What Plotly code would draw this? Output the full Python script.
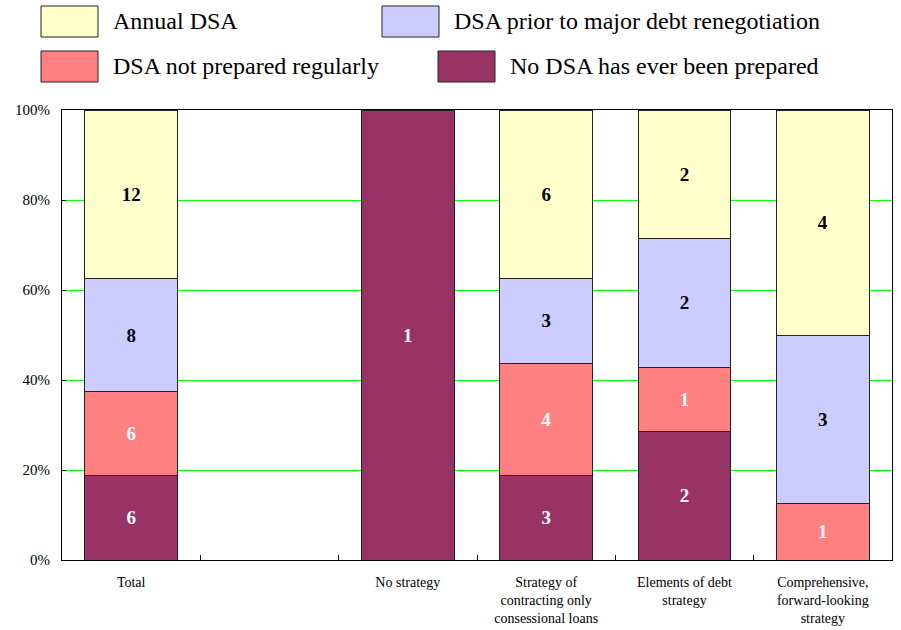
import plotly.graph_objects as go

# Categories (an empty slot separates "Total" from the strategy groups)
categories = ["Total", " ", "No strategy", "Strategy of contracting only consessional loans",
              "Elements of debt strategy", "Comprehensive, forward-looking strategy"]
tick_labels = ["Total", "", "No strategy",
               "Strategy of<br>contracting only<br>consessional loans",
               "Elements of debt<br>strategy",
               "Comprehensive,<br>forward-looking<br>strategy"]

# Number of countries per DSA practice
no_dsa_ever = [6, None, 1, 3, 2, None]
dsa_not_regular = [6, None, None, 4, 1, 1]
dsa_prior_renegotiation = [8, None, None, 3, 2, 3]
annual_dsa = [12, None, None, 6, 2, 4]

series = [
    ("No DSA has ever been prepared", no_dsa_ever, "#993366", "white"),
    ("DSA not prepared regularly", dsa_not_regular, "#FF8080", "white"),
    ("DSA prior to major debt renegotiation", dsa_prior_renegotiation, "#CCCCFF", "black"),
    ("Annual DSA", annual_dsa, "#FFFFCC", "black"),
]

FONT = "Liberation Serif"
W, H = 901, 630
ML, MR, MT, MB = 62, 9, 110, 70
PW, PH = W - ML - MR, H - MT - MB

fig = go.Figure()
for name, vals, color, tcolor in series:
    fig.add_trace(go.Bar(
        x=categories, y=vals, name=name,
        marker=dict(color=color, line=dict(color="#222222", width=1)),
        text=[("" if v is None else str(v)) for v in vals],
        textposition="inside", insidetextanchor="middle", textangle=0,
        textfont=dict(family=FONT, size=19, color=tcolor, weight="bold"),
        showlegend=False, hoverinfo="x+y+name",
    ))


def px_x(px):
    return (px - ML) / PW


def px_y(py):
    return (H - MB - py) / PH


# Legend drawn as large swatches with labels
legend_items = [
    ("Annual DSA", "#FFFFCC", 41, 6),
    ("DSA prior to major debt renegotiation", "#CCCCFF", 382, 6),
    ("DSA not prepared regularly", "#FF8080", 41, 51),
    ("No DSA has ever been prepared", "#993366", 438, 51),
]
shapes = []
annotations = []
for label, color, lx, ly in legend_items:
    shapes.append(dict(type="rect", xref="paper", yref="paper",
                       x0=px_x(lx), x1=px_x(lx + 57), y0=px_y(ly + 31), y1=px_y(ly),
                       fillcolor=color, line=dict(color="#222222", width=1)))
    annotations.append(dict(xref="paper", yref="paper", x=px_x(lx + 70), y=px_y(ly + 15),
                            xanchor="left", yanchor="middle", showarrow=False,
                            text=label, font=dict(family=FONT, size=24, color="black")))

fig.update_layout(
    width=W, height=H,
    margin=dict(l=ML, r=MR, t=MT, b=MB),
    barmode="stack", barnorm="percent", bargap=0.33,
    plot_bgcolor="white", paper_bgcolor="white",
    font=dict(family=FONT, size=14, color="black"),
    shapes=shapes, annotations=annotations,
    showlegend=False,
)
fig.update_xaxes(
    type="category", tickmode="array", tickvals=categories, ticktext=tick_labels,
    showline=True, linecolor="black", linewidth=1, mirror=True,
    ticks="inside", tickson="boundaries", ticklen=5, tickcolor="black",
    ticklabelstandoff=9, automargin=False,
    showgrid=False, tickfont=dict(family=FONT, size=14, color="black"),
)
fig.update_yaxes(
    range=[0, 100], tickmode="linear", tick0=0, dtick=20, ticksuffix="%",
    showline=True, linecolor="black", linewidth=1, mirror=True,
    ticks="inside", ticklen=4, tickcolor="black",
    ticklabelstandoff=8, automargin=False,
    showgrid=True, gridcolor="#00FF00", gridwidth=1, zeroline=False,
    tickfont=dict(family=FONT, size=15, color="black"),
)

fig.write_html("out.html")
